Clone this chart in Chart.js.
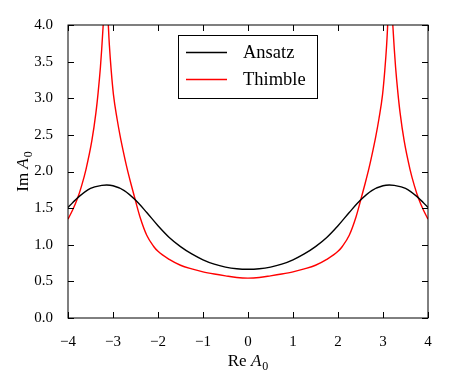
<!DOCTYPE html>
<html>
<head>
<meta charset="utf-8">
<script src="https://cdn.jsdelivr.net/npm/chart.js@4.4.1/dist/chart.umd.min.js"></script>
<style>
  body { margin: 0; background: #fff; }
</style>
</head>
<body>
<canvas id="plot" width="450" height="380"></canvas>
<script>
const xTicks = [-4, -3, -2, -1, 0, 1, 2, 3, 4];
const yTicks = [0, 0.5, 1, 1.5, 2, 2.5, 3, 3.5, 4];

const ansatzX = [-4, -3.75, -3.5, -3.25, -3.14, -3, -2.75, -2.5, -2.25, -2, -1.75, -1.5, -1.25, -1, -0.75, -0.5, -0.25,
                 0, 0.25, 0.5, 0.75, 1, 1.25, 1.5, 1.75, 2, 2.25, 2.5, 2.75, 3, 3.14, 3.25, 3.5, 3.75, 4];
const ansatzY = [1.51, 1.66, 1.77, 1.81, 1.815, 1.805, 1.74, 1.61, 1.44, 1.26, 1.10, 0.975, 0.875, 0.795, 0.735, 0.695, 0.672,
                 0.665, 0.672, 0.695, 0.735, 0.795, 0.875, 0.975, 1.10, 1.26, 1.44, 1.61, 1.74, 1.805, 1.815, 1.81, 1.77, 1.66, 1.51];

// the Thimble curve blows up near Re A0 = ±π, so it is broken there (null)
const thimbleX = [-4, -3.9, -3.79, -3.7, -3.6, -3.47, -3.38, -3.33, -3.28, -3.25, -3.22, -3.20, -3.17, -3.1416,
                  -3.13, -3.115, -3.10, -3.08, -3.04, -2.99, -2.91, -2.84, -2.78, -2.69, -2.6, -2.5, -2.4, -2.25, -2.1, -2,
                  -1.75, -1.5, -1.25, -1, -0.75, -0.5, -0.25, 0,
                  0.25, 0.5, 0.75, 1, 1.25, 1.5, 1.75,
                  2, 2.1, 2.25, 2.4, 2.5, 2.6, 2.69, 2.78, 2.84, 2.91, 2.99, 3.04, 3.08, 3.10, 3.115, 3.13,
                  3.1416, 3.17, 3.20, 3.22, 3.25, 3.28, 3.33, 3.38, 3.47, 3.6, 3.7, 3.79, 3.9, 4];
const thimbleY = [1.35, 1.47, 1.63, 1.80, 2.03, 2.42, 2.80, 3.08, 3.42, 3.68, 3.98, 4.2, 4.7, null,
                  4.6, 4.2, 3.95, 3.72, 3.38, 3.05, 2.72, 2.48, 2.30, 2.05, 1.83, 1.60, 1.38, 1.13, 0.98, 0.91,
                  0.80, 0.72, 0.67, 0.63, 0.60, 0.575, 0.553, 0.545,
                  0.553, 0.575, 0.60, 0.63, 0.67, 0.72, 0.80,
                  0.91, 0.98, 1.13, 1.38, 1.60, 1.83, 2.05, 2.30, 2.48, 2.72, 3.05, 3.38, 3.72, 3.95, 4.2, 4.6,
                  null, 4.7, 4.2, 3.98, 3.68, 3.42, 3.08, 2.80, 2.42, 2.03, 1.80, 1.63, 1.47, 1.35];

const serif = "'Liberation Serif', 'DejaVu Serif', serif";

function points(xs, ys) {
    return xs.map((x, i) => ({ x: x, y: ys[i] }));
}

// frame, inward ticks, legend box and axis titles, the way matplotlib draws them
const decorations = {
    id: 'decorations',
    afterDraw(chart) {
        const ctx = chart.ctx;
        const a = chart.chartArea;
        const sx = chart.scales.x, sy = chart.scales.y;
        ctx.save();
        ctx.strokeStyle = '#000';
        ctx.lineWidth = 1;
        ctx.strokeRect(a.left, a.top, a.right - a.left, a.bottom - a.top);

        const len = 6;
        ctx.beginPath();
        sx.ticks.forEach(t => {
            const px = Math.round(sx.getPixelForValue(t.value)) + 0.5;
            ctx.moveTo(px, a.bottom); ctx.lineTo(px, a.bottom - len);
            ctx.moveTo(px, a.top); ctx.lineTo(px, a.top + len);
        });
        sy.ticks.forEach(t => {
            const py = Math.round(sy.getPixelForValue(t.value)) + 0.5;
            ctx.moveTo(a.left, py); ctx.lineTo(a.left + len, py);
            ctx.moveTo(a.right, py); ctx.lineTo(a.right - len, py);
        });
        ctx.stroke();

        // legend
        const box = { l: 178.5, t: 35.5, r: 317.5, b: 98.5 };
        ctx.fillStyle = '#fff';
        ctx.fillRect(box.l, box.t, box.r - box.l, box.b - box.t);
        ctx.strokeRect(box.l, box.t, box.r - box.l, box.b - box.t);
        const rows = [52.5, 79.5];
        ctx.font = '18.5px ' + serif;
        ctx.textBaseline = 'alphabetic';
        chart.data.datasets.forEach((ds, i) => {
            ctx.strokeStyle = ds.borderColor;
            ctx.lineWidth = ds.borderWidth;
            ctx.beginPath();
            ctx.moveTo(186, rows[i]);
            ctx.lineTo(227, rows[i]);
            ctx.stroke();
            ctx.fillStyle = '#000';
            ctx.fillText(ds.label, 243, rows[i] + 5.8);
        });

        // axis titles: "Re A0" and "Im A0"
        function title(word, cx, cy, angle) {
            ctx.save();
            ctx.translate(cx, cy);
            ctx.rotate(angle);
            ctx.fillStyle = '#000';
            const fWord = '17px ' + serif, fA = 'italic 17px ' + serif, fSub = '12px ' + serif;
            ctx.font = fWord; const w1 = ctx.measureText(word + ' ').width;
            ctx.font = fA; const w2 = ctx.measureText('A').width;
            ctx.font = fSub; const w3 = ctx.measureText('0').width;
            let x0 = -(w1 + w2 + w3 + 1) / 2;
            ctx.textBaseline = 'alphabetic';
            ctx.font = fWord; ctx.fillText(word + ' ', x0, 0);
            ctx.font = fA; ctx.fillText('A', x0 + w1, 0);
            ctx.font = fSub; ctx.fillText('0', x0 + w1 + w2 + 1, 3.5);
            ctx.restore();
        }
        title('Re', (a.left + a.right) / 2, 366, 0);
        title('Im', 28, (a.top + a.bottom) / 2, -Math.PI / 2);
        ctx.restore();
    }
};

new Chart(document.getElementById('plot').getContext('2d'), {
    type: 'line',
    data: {
        datasets: [{
            label: 'Ansatz',
            data: points(ansatzX, ansatzY),
            borderColor: '#000000',
            borderWidth: 1.4,
            pointRadius: 0,
            cubicInterpolationMode: 'monotone',
            fill: false
        }, {
            label: 'Thimble',
            data: points(thimbleX, thimbleY),
            borderColor: '#ff0000',
            borderWidth: 1.4,
            pointRadius: 0,
            cubicInterpolationMode: 'monotone',
            spanGaps: false,
            fill: false
        }]
    },
    options: {
        responsive: false,
        animation: false,
        events: [],
        layout: { padding: { left: 0, right: 22, top: 25, bottom: 0 } },
        plugins: {
            legend: { display: false },
            tooltip: { enabled: false }
        },
        scales: {
            x: {
                type: 'linear',
                min: -4, max: 4,
                afterBuildTicks: s => { s.ticks = xTicks.map(v => ({ value: v })); },
                afterFit: s => { s.height = 62; },
                grid: { display: false },
                border: { display: false },
                ticks: {
                    color: '#000',
                    padding: 7,
                    font: { family: serif, size: 15 },
                    maxRotation: 0,
                    callback: v => v < 0 ? '\u2212' + Math.abs(v) : String(v)
                }
            },
            y: {
                type: 'linear',
                min: 0, max: 4,
                afterBuildTicks: s => { s.ticks = yTicks.map(v => ({ value: v })); },
                afterFit: s => { s.width = 68; },
                grid: { display: false },
                border: { display: false },
                ticks: {
                    color: '#000',
                    padding: 7,
                    font: { family: serif, size: 15 },
                    callback: v => v.toFixed(1)
                }
            }
        }
    },
    plugins: [decorations]
});
</script>
</body>
</html>
